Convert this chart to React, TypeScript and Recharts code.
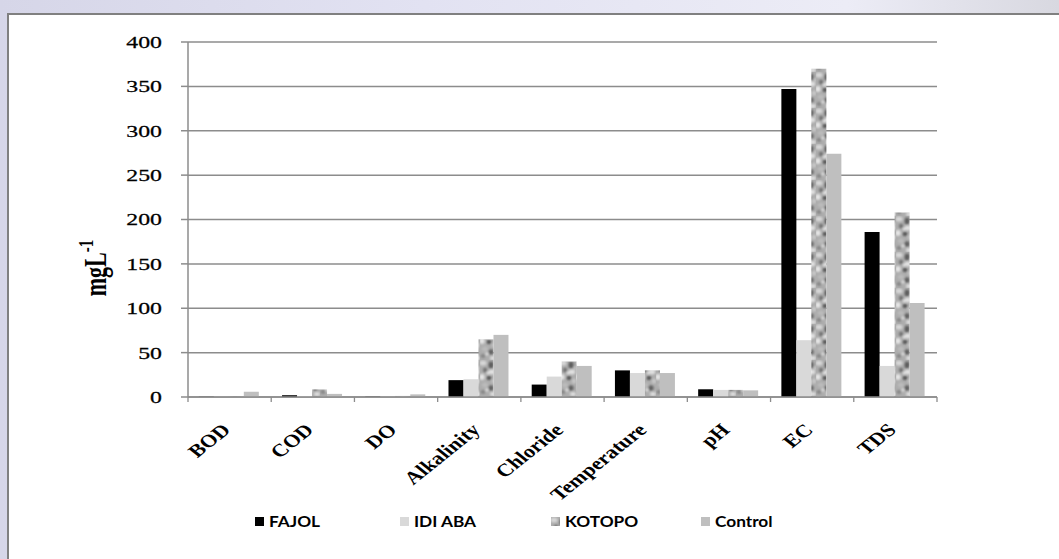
import React from 'react';
import { BarChart, Bar, XAxis, YAxis, CartesianGrid } from 'recharts';

const categories = ['BOD', 'COD', 'DO', 'Alkalinity', 'Chloride', 'Temperature', 'pH', 'EC', 'TDS'];
const fajol = [0.3, 2, 0.4, 19, 14, 30, 8.7, 347, 186];
const idiAba = [0.4, 1, 0.5, 20, 23, 27, 8, 64, 35];
const kotopo = [1, 8.5, 1.2, 65, 40, 30, 8, 370, 208];
const control = [6, 3.5, 3, 70, 35, 27, 7.5, 274, 106];
const yTicks = [0, 50, 100, 150, 200, 250, 300, 350, 400];

const data = categories.map((c, i) => ({
  name: c,
  FAJOL: fajol[i],
  'IDI ABA': idiAba[i],
  KOTOPO: kotopo[i],
  Control: control[i],
}));

const SERIF = '"Liberation Serif", "Times New Roman", serif';
const SX = 1.4;
const GRID = '#8c8c8c';

const YTick = (props: any) => {
  const { x, y, payload } = props;
  return (
    <text
      x={x}
      y={y}
      dy={6}
      textAnchor="end"
      fontFamily={SERIF}
      fontSize={17}
      fill="#000"
      stroke="#000"
      strokeWidth={0.25}
      transform={`translate(${x} ${y}) scale(${SX} 1) translate(${-x} ${-y})`}
    >
      {payload.value}
    </text>
  );
};

const XTick = (props: any) => {
  const { x, y, payload, index } = props;
  const off = payload && payload.offset ? payload.offset : 750 / 18;
  const lx = x + 2;
  const ly = y + 34;
  return (
    <g>
      <line x1={x - off} x2={x - off} y1={y} y2={y + 5} stroke={GRID} strokeWidth={1.3} />
      {index === categories.length - 1 && (
        <line x1={x + off} x2={x + off} y1={y} y2={y + 5} stroke={GRID} strokeWidth={1.3} />
      )}
      <text
        x={0}
        y={0}
        textAnchor="end"
        fontFamily={SERIF}
        fontWeight="bold"
        fontSize={18}
        fill="#000"
        transform={`translate(${lx} ${ly}) scale(1.25 1) rotate(-45)`}
      >
        {payload.value}
      </text>
    </g>
  );
};

const YLabel = () => (
  <text
    x={0}
    y={0}
    textAnchor="middle"
    fontFamily={SERIF}
    fontWeight="bold"
    fontSize={22}
    fill="#000"
    transform={`translate(106 268) scale(${SX} 1) rotate(-90)`}
  >
    mgL
    <tspan fontSize={15} dy={-9}>-1</tspan>
  </text>
);

const legendItems = [
  { name: 'FAJOL', left: 255, fill: '#000000' },
  { name: 'IDI ABA', left: 400, fill: '#d9d9d9' },
  { name: 'KOTOPO', left: 551, fill: 'url(#granite)' },
  { name: 'Control', left: 701, fill: '#bfbfbf' },
];

export default function App() {
  return (
    <div
      style={{
        position: 'absolute',
        left: 0,
        top: 0,
        width: 1059,
        height: 559,
        overflow: 'hidden',
        background: 'linear-gradient(90deg, #d6d6e8 0%, #e2e2f2 40%, #ececf6 80%, #d8d8e0 100%)',
      }}
    >
      <div
        style={{
          position: 'absolute',
          left: 7,
          top: 13,
          width: 1080,
          height: 600,
          borderLeft: '2px solid #808080',
          borderTop: '2px solid #808080',
          background: '#ffffff',
        }}
      />
      <div style={{ position: 'absolute', left: 0, top: 0 }}>
        <BarChart
          width={1059}
          height={559}
          data={data}
          margin={{ top: 42, right: 122, left: 108, bottom: 102 }}
          barCategoryGap="13%"
          barGap={0}
        >
          <defs>
            <filter id="soft" x="-0.2" y="-0.2" width="1.4" height="1.4">
              <feGaussianBlur stdDeviation="1" />
            </filter>
            <pattern id="granite" patternUnits="userSpaceOnUse" width="16" height="36">
              <rect x="0" y="0" width="16" height="36" fill="#adadad" />
              <g filter="url(#soft)">
                <ellipse cx="3" cy="3" rx="3.5" ry="2.5" fill="#d8d8d8" />
                <ellipse cx="11" cy="5" rx="2.5" ry="3.5" fill="#5c5c5c" />
                <ellipse cx="5" cy="10" rx="2" ry="2.6" fill="#6e6e6e" />
                <ellipse cx="12" cy="12" rx="3.2" ry="2.4" fill="#e2e2e2" />
                <ellipse cx="2" cy="17" rx="2.6" ry="3" fill="#e6e6e6" />
                <ellipse cx="9" cy="18" rx="2.4" ry="2" fill="#4e4e4e" />
                <ellipse cx="14" cy="21" rx="2.2" ry="2.6" fill="#c8c8c8" />
                <ellipse cx="5" cy="25" rx="3" ry="2.2" fill="#bcbcbc" />
                <ellipse cx="11" cy="28" rx="2.6" ry="2.8" fill="#606060" />
                <ellipse cx="3" cy="32" rx="2.4" ry="2" fill="#858585" />
                <ellipse cx="13" cy="34" rx="3" ry="2" fill="#dedede" />
                <circle cx="8" cy="13" r="1.3" fill="#f0f0f0" />
                <circle cx="7" cy="30" r="1.4" fill="#ececec" />
                <circle cx="15" cy="8" r="1.2" fill="#d0d0d0" />
              </g>
            </pattern>
          </defs>
          <CartesianGrid vertical={false} stroke={GRID} strokeWidth={1.5} />
          <XAxis
            dataKey="name"
            height={60}
            tickLine={false}
            tickSize={0}
            tickMargin={0}
            interval={0}
            axisLine={{ stroke: GRID, strokeWidth: 1.5 }}
            tick={<XTick />}
          />
          <YAxis
            width={80}
            domain={[0, 400]}
            ticks={yTicks}
            interval={0}
            tickSize={7}
            tickMargin={19}
            axisLine={{ stroke: GRID, strokeWidth: 1.5 }}
            tickLine={{ stroke: GRID, strokeWidth: 1.5 }}
            tick={<YTick />}
          />
          <Bar dataKey="FAJOL" fill="#000000" isAnimationActive={false} />
          <Bar dataKey="IDI ABA" fill="#d9d9d9" isAnimationActive={false} />
          <Bar dataKey="KOTOPO" fill="url(#granite)" isAnimationActive={false} />
          <Bar dataKey="Control" fill="#bfbfbf" isAnimationActive={false} />
          <YLabel />
        </BarChart>
      </div>
      {legendItems.map((it) => (
        <div
          key={it.name}
          style={{
            position: 'absolute',
            left: it.left,
            top: 511,
            height: 20,
            display: 'flex',
            alignItems: 'center',
            fontFamily: 'Lato, "Open Sans", sans-serif',
            fontWeight: 700,
            fontSize: 15,
            color: '#000',
            whiteSpace: 'nowrap',
          }}
        >
          <svg width={9} height={9} style={{ marginRight: 5 }}>
            <rect x={0} y={0} width={9} height={9} fill={it.fill} />
          </svg>
          <span style={{ display: 'inline-block', transform: 'scaleX(1.15)', transformOrigin: 'left center' }}>
            {it.name}
          </span>
        </div>
      ))}
    </div>
  );
}
